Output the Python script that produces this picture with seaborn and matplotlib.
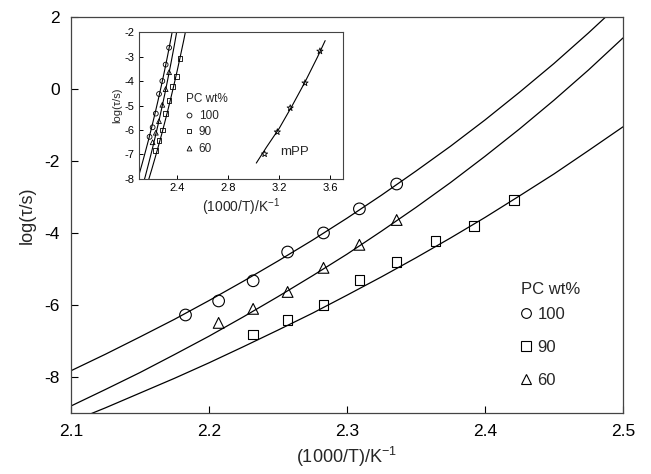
import numpy as np
import pandas as pd
import seaborn as sns
import matplotlib.pyplot as plt
from matplotlib.lines import Line2D

sns.set_theme(style='ticks')
plt.rcParams['font.family'] = ['Liberation Sans', 'DejaVu Sans']
plt.rcParams['mathtext.default'] = 'regular'
plt.rcParams['axes.unicode_minus'] = False

# measured points (1000/T, log tau)
x100 = [2.183, 2.207, 2.232, 2.257, 2.283, 2.309, 2.336]
y100 = [-6.28, -5.89, -5.33, -4.53, -4.00, -3.33, -2.64]
x90 = [2.232, 2.257, 2.283, 2.309, 2.336, 2.364, 2.392, 2.421]
y90 = [-6.83, -6.42, -6.00, -5.31, -4.81, -4.22, -3.81, -3.08]
x60 = [2.207, 2.232, 2.257, 2.283, 2.309, 2.336]
y60 = [-6.50, -6.11, -5.64, -4.97, -4.33, -3.64]

# fitted curves
xfit = [2.100, 2.125, 2.150, 2.175, 2.200, 2.225, 2.250, 2.275, 2.300,
        2.325, 2.350, 2.375, 2.400, 2.425, 2.450, 2.475, 2.500]
fit100 = [-7.83, -7.37, -6.89, -6.40, -5.88, -5.34, -4.78, -4.20, -3.59,
          -2.95, -2.28, -1.59, -0.86, -0.09, 0.71, 1.56, 2.45]
fit90 = [-9.25, -8.86, -8.45, -8.04, -7.61, -7.16, -6.70, -6.23, -5.73,
         -5.22, -4.69, -4.14, -3.57, -2.97, -2.36, -1.71, -1.05]
fit60 = [-8.81, -8.35, -7.88, -7.38, -6.87, -6.33, -5.77, -5.19, -4.59,
         -3.95, -3.29, -2.60, -1.87, -1.11, -0.31, 0.53, 1.42]

# mPP (inset only)
x_mpp = [3.085, 3.185, 3.286, 3.402, 3.519]
y_mpp = [-6.98, -6.08, -5.10, -4.08, -2.78]
xfit_mpp = [3.02, 3.10, 3.20, 3.30, 3.40, 3.50, 3.56]
fit_mpp = [-7.35, -6.70, -5.93, -5.02, -4.06, -3.02, -2.35]

labels = ['100', '90', '60']
markers = {'100': 'o', '90': 's', '60': '^'}

pts = pd.concat([
    pd.DataFrame({'x': x100, 'y': y100, 'pc': '100'}),
    pd.DataFrame({'x': x90, 'y': y90, 'pc': '90'}),
    pd.DataFrame({'x': x60, 'y': y60, 'pc': '60'}),
])
fits = pd.concat([
    pd.DataFrame({'x': xfit, 'y': fit100, 'pc': '100'}),
    pd.DataFrame({'x': xfit, 'y': fit90, 'pc': '90'}),
    pd.DataFrame({'x': xfit, 'y': fit60, 'pc': '60'}),
])

fig = plt.figure(figsize=(6.51, 4.74), dpi=100)
ax = fig.add_axes([0.109, 0.129, 0.848, 0.835])

sns.lineplot(data=fits, x='x', y='y', units='pc', estimator=None, color='black',
             lw=0.9, sort=False, ax=ax)
for lab in labels:
    d = pts[pts.pc == lab]
    ms = {'100': 70, '90': 45, '60': 60}[lab]
    sns.scatterplot(data=d, x='x', y='y', marker=markers[lab], s=ms,
                    facecolor='none', edgecolor='black', linewidth=0.8, ax=ax)

ax.set_xlim(2.1, 2.5)
ax.set_ylim(-9, 2)
ax.set_xticks([2.1, 2.2, 2.3, 2.4, 2.5])
ax.set_xticklabels(['2.1', '2.2', '2.3', '2.4', '2.5'])
ax.set_yticks([2, 0, -2, -4, -6, -8])
ax.tick_params(direction='in', length=5, width=0.8, labelsize=12.5, pad=8,
               colors='black')
ax.set_xlabel('(1000/T)/K$^{-1}$', fontsize=13)
ax.set_ylabel('log(τ/s)', fontsize=13, labelpad=6)
for s in ax.spines.values():
    s.set_color('#444444')
    s.set_linewidth(0.9)

handles = [Line2D([], [], ls='none', marker=markers[l], mfc='none', mec='black',
                  ms=7, mew=0.8) for l in labels]
leg = ax.legend(handles, labels, title='PC wt%', loc='upper left',
                bbox_to_anchor=(0.80, 0.352), frameon=False, fontsize=12,
                title_fontsize=12, labelspacing=1.1, handlelength=0.6,
                handletextpad=0.4, borderpad=0)
leg._legend_box.align = 'left'
leg._legend_box.sep = 7

# inset
ins = fig.add_axes([0.2135, 0.6224, 0.3134, 0.310])
sns.lineplot(data=fits, x='x', y='y', units='pc', estimator=None, color='black',
             lw=0.8, sort=False, ax=ins)
for lab in labels:
    d = pts[pts.pc == lab]
    sns.scatterplot(data=d, x='x', y='y', marker=markers[lab], s=12,
                    facecolor='none', edgecolor='black', linewidth=0.6, ax=ins)
sns.lineplot(x=xfit_mpp, y=fit_mpp, color='black', lw=0.8, sort=False, ax=ins)
sns.scatterplot(x=x_mpp, y=y_mpp, marker='*', s=22, facecolor='none',
                edgecolor='black', linewidth=0.6, ax=ins)
ins.text(3.21, -6.9, 'mPP', fontsize=9.5, va='center', ha='left')

ins.set_xlim(2.1, 3.7)
ins.set_ylim(-8, -2)
ins.set_xticks([2.4, 2.8, 3.2, 3.6])
ins.set_xticklabels(['2.4', '2.8', '3.2', '3.6'])
ins.set_yticks([-2, -3, -4, -5, -6, -7, -8])
ins.tick_params(direction='in', length=3, width=0.7, labelsize=8, pad=3,
                colors='black')
ins.set_xlabel('(1000/T)/K$^{-1}$', fontsize=10, labelpad=2)
ins.set_ylabel('log(τ/s)', fontsize=8, labelpad=2)
for s in ins.spines.values():
    s.set_color('#444444')
    s.set_linewidth(0.8)

ihandles = [Line2D([], [], ls='none', marker=markers[l], mfc='none', mec='black',
                   ms=3.5, mew=0.6) for l in labels]
ileg = ins.legend(ihandles, labels, title='PC wt%', loc='upper left',
                  bbox_to_anchor=(0.20, 0.625), frameon=False, fontsize=8.5,
                  title_fontsize=8.5, labelspacing=0.4, handlelength=0.6,
                  handletextpad=0.5, borderpad=0)
ileg._legend_box.align = 'left'

fig.savefig('out.png', dpi=100)
